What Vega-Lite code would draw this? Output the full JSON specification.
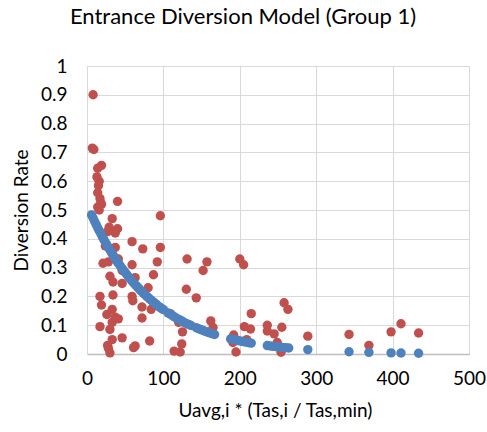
{
  "$schema": "https://vega.github.io/schema/vega-lite/v6.json",
  "width": 382,
  "height": 288,
  "autosize": "none",
  "padding": {"left": 87, "top": 66, "right": 18, "bottom": 78},
  "background": "white",
  "title": {"text": "Entrance Diversion Model (Group 1)", "font": "Lato", "fontSize": 22, "fontWeight": "normal", "color": "#000000", "anchor": "middle", "dx": -35, "offset": 28},
  "config": {
    "view": {"stroke": null},
    "axis": {"grid": true, "labelFont": "Lato", "labelFontSize": 19, "labelColor": "#000000", "titleFont": "Lato", "titleFontSize": 19, "titleFontWeight": "normal", "titleColor": "#000000", "ticks": false, "gridColor": "#D9D9D9", "gridWidth": 1, "gridOpacity": 1, "labelFlush": false}
  },
  "data": {"values": [
    {"x": 8, "y": 0.9, "s": "Observed"},
    {"x": 7, "y": 0.715, "s": "Observed"},
    {"x": 9, "y": 0.71, "s": "Observed"},
    {"x": 19, "y": 0.655, "s": "Observed"},
    {"x": 14, "y": 0.645, "s": "Observed"},
    {"x": 13, "y": 0.615, "s": "Observed"},
    {"x": 16, "y": 0.6, "s": "Observed"},
    {"x": 15, "y": 0.585, "s": "Observed"},
    {"x": 14, "y": 0.56, "s": "Observed"},
    {"x": 17, "y": 0.54, "s": "Observed"},
    {"x": 18, "y": 0.525, "s": "Observed"},
    {"x": 14, "y": 0.51, "s": "Observed"},
    {"x": 19, "y": 0.52, "s": "Observed"},
    {"x": 16, "y": 0.5, "s": "Observed"},
    {"x": 40, "y": 0.53, "s": "Observed"},
    {"x": 96, "y": 0.48, "s": "Observed"},
    {"x": 33, "y": 0.47, "s": "Observed"},
    {"x": 29, "y": 0.44, "s": "Observed"},
    {"x": 40, "y": 0.435, "s": "Observed"},
    {"x": 37, "y": 0.42, "s": "Observed"},
    {"x": 27, "y": 0.425, "s": "Observed"},
    {"x": 59, "y": 0.39, "s": "Observed"},
    {"x": 73, "y": 0.365, "s": "Observed"},
    {"x": 96, "y": 0.37, "s": "Observed"},
    {"x": 24, "y": 0.375, "s": "Observed"},
    {"x": 37, "y": 0.37, "s": "Observed"},
    {"x": 41, "y": 0.33, "s": "Observed"},
    {"x": 21, "y": 0.315, "s": "Observed"},
    {"x": 28, "y": 0.32, "s": "Observed"},
    {"x": 59, "y": 0.31, "s": "Observed"},
    {"x": 92, "y": 0.32, "s": "Observed"},
    {"x": 30, "y": 0.27, "s": "Observed"},
    {"x": 46, "y": 0.29, "s": "Observed"},
    {"x": 87, "y": 0.275, "s": "Observed"},
    {"x": 63, "y": 0.265, "s": "Observed"},
    {"x": 34, "y": 0.25, "s": "Observed"},
    {"x": 46, "y": 0.245, "s": "Observed"},
    {"x": 80, "y": 0.23, "s": "Observed"},
    {"x": 17, "y": 0.2, "s": "Observed"},
    {"x": 34, "y": 0.205, "s": "Observed"},
    {"x": 59, "y": 0.2, "s": "Observed"},
    {"x": 60, "y": 0.185, "s": "Observed"},
    {"x": 19, "y": 0.17, "s": "Observed"},
    {"x": 33, "y": 0.155, "s": "Observed"},
    {"x": 72, "y": 0.163, "s": "Observed"},
    {"x": 84, "y": 0.155, "s": "Observed"},
    {"x": 26, "y": 0.137, "s": "Observed"},
    {"x": 37, "y": 0.128, "s": "Observed"},
    {"x": 41, "y": 0.122, "s": "Observed"},
    {"x": 72, "y": 0.125, "s": "Observed"},
    {"x": 33, "y": 0.11, "s": "Observed"},
    {"x": 17, "y": 0.095, "s": "Observed"},
    {"x": 30, "y": 0.085, "s": "Observed"},
    {"x": 46, "y": 0.056, "s": "Observed"},
    {"x": 33, "y": 0.05, "s": "Observed"},
    {"x": 82, "y": 0.045, "s": "Observed"},
    {"x": 63, "y": 0.028, "s": "Observed"},
    {"x": 61, "y": 0.022, "s": "Observed"},
    {"x": 27, "y": 0.03, "s": "Observed"},
    {"x": 28, "y": 0.02, "s": "Observed"},
    {"x": 30, "y": 0.004, "s": "Observed"},
    {"x": 131, "y": 0.33, "s": "Observed"},
    {"x": 157, "y": 0.32, "s": "Observed"},
    {"x": 152, "y": 0.29, "s": "Observed"},
    {"x": 200, "y": 0.33, "s": "Observed"},
    {"x": 205, "y": 0.31, "s": "Observed"},
    {"x": 130, "y": 0.225, "s": "Observed"},
    {"x": 143, "y": 0.195, "s": "Observed"},
    {"x": 109, "y": 0.14, "s": "Observed"},
    {"x": 120, "y": 0.11, "s": "Observed"},
    {"x": 162, "y": 0.115, "s": "Observed"},
    {"x": 165, "y": 0.092, "s": "Observed"},
    {"x": 125, "y": 0.077, "s": "Observed"},
    {"x": 124, "y": 0.035, "s": "Observed"},
    {"x": 114, "y": 0.01, "s": "Observed"},
    {"x": 122, "y": 0.007, "s": "Observed"},
    {"x": 215, "y": 0.14, "s": "Observed"},
    {"x": 206, "y": 0.095, "s": "Observed"},
    {"x": 214, "y": 0.087, "s": "Observed"},
    {"x": 192, "y": 0.066, "s": "Observed"},
    {"x": 209, "y": 0.05, "s": "Observed"},
    {"x": 191, "y": 0.04, "s": "Observed"},
    {"x": 195, "y": 0.007, "s": "Observed"},
    {"x": 236, "y": 0.1, "s": "Observed"},
    {"x": 236, "y": 0.08, "s": "Observed"},
    {"x": 245, "y": 0.07, "s": "Observed"},
    {"x": 255, "y": 0.093, "s": "Observed"},
    {"x": 258, "y": 0.178, "s": "Observed"},
    {"x": 263, "y": 0.155, "s": "Observed"},
    {"x": 249, "y": 0.04, "s": "Observed"},
    {"x": 254, "y": 0.006, "s": "Observed"},
    {"x": 289, "y": 0.062, "s": "Observed"},
    {"x": 343, "y": 0.068, "s": "Observed"},
    {"x": 369, "y": 0.03, "s": "Observed"},
    {"x": 398, "y": 0.077, "s": "Observed"},
    {"x": 411, "y": 0.105, "s": "Observed"},
    {"x": 434, "y": 0.073, "s": "Observed"},
    {"x": 6, "y": 0.483, "s": "Model"},
    {"x": 8, "y": 0.472, "s": "Model"},
    {"x": 10, "y": 0.46, "s": "Model"},
    {"x": 12, "y": 0.449, "s": "Model"},
    {"x": 14, "y": 0.438, "s": "Model"},
    {"x": 16, "y": 0.428, "s": "Model"},
    {"x": 18, "y": 0.418, "s": "Model"},
    {"x": 20, "y": 0.407, "s": "Model"},
    {"x": 22, "y": 0.398, "s": "Model"},
    {"x": 24, "y": 0.388, "s": "Model"},
    {"x": 26, "y": 0.379, "s": "Model"},
    {"x": 28, "y": 0.37, "s": "Model"},
    {"x": 30, "y": 0.361, "s": "Model"},
    {"x": 32, "y": 0.352, "s": "Model"},
    {"x": 34, "y": 0.344, "s": "Model"},
    {"x": 36, "y": 0.335, "s": "Model"},
    {"x": 38, "y": 0.327, "s": "Model"},
    {"x": 40, "y": 0.319, "s": "Model"},
    {"x": 42, "y": 0.312, "s": "Model"},
    {"x": 44, "y": 0.304, "s": "Model"},
    {"x": 46, "y": 0.297, "s": "Model"},
    {"x": 48, "y": 0.29, "s": "Model"},
    {"x": 50, "y": 0.283, "s": "Model"},
    {"x": 52, "y": 0.276, "s": "Model"},
    {"x": 54, "y": 0.269, "s": "Model"},
    {"x": 56, "y": 0.263, "s": "Model"},
    {"x": 58, "y": 0.256, "s": "Model"},
    {"x": 60, "y": 0.25, "s": "Model"},
    {"x": 62, "y": 0.244, "s": "Model"},
    {"x": 64, "y": 0.238, "s": "Model"},
    {"x": 66, "y": 0.233, "s": "Model"},
    {"x": 68, "y": 0.227, "s": "Model"},
    {"x": 70, "y": 0.221, "s": "Model"},
    {"x": 72, "y": 0.216, "s": "Model"},
    {"x": 74, "y": 0.211, "s": "Model"},
    {"x": 76, "y": 0.206, "s": "Model"},
    {"x": 78, "y": 0.201, "s": "Model"},
    {"x": 80, "y": 0.196, "s": "Model"},
    {"x": 82, "y": 0.191, "s": "Model"},
    {"x": 84, "y": 0.187, "s": "Model"},
    {"x": 86, "y": 0.182, "s": "Model"},
    {"x": 88, "y": 0.178, "s": "Model"},
    {"x": 90, "y": 0.174, "s": "Model"},
    {"x": 92, "y": 0.169, "s": "Model"},
    {"x": 94, "y": 0.165, "s": "Model"},
    {"x": 96, "y": 0.161, "s": "Model"},
    {"x": 98, "y": 0.157, "s": "Model"},
    {"x": 100, "y": 0.154, "s": "Model"},
    {"x": 106, "y": 0.143, "s": "Model"},
    {"x": 109, "y": 0.138, "s": "Model"},
    {"x": 112, "y": 0.133, "s": "Model"},
    {"x": 115, "y": 0.128, "s": "Model"},
    {"x": 118, "y": 0.123, "s": "Model"},
    {"x": 121, "y": 0.119, "s": "Model"},
    {"x": 124, "y": 0.115, "s": "Model"},
    {"x": 127, "y": 0.11, "s": "Model"},
    {"x": 130, "y": 0.106, "s": "Model"},
    {"x": 133, "y": 0.103, "s": "Model"},
    {"x": 136, "y": 0.099, "s": "Model"},
    {"x": 143, "y": 0.091, "s": "Model"},
    {"x": 146, "y": 0.088, "s": "Model"},
    {"x": 149, "y": 0.0845, "s": "Model"},
    {"x": 152, "y": 0.0814, "s": "Model"},
    {"x": 155, "y": 0.0785, "s": "Model"},
    {"x": 158, "y": 0.0757, "s": "Model"},
    {"x": 161, "y": 0.073, "s": "Model"},
    {"x": 164, "y": 0.0704, "s": "Model"},
    {"x": 167, "y": 0.0678, "s": "Model"},
    {"x": 188, "y": 0.0525, "s": "Model"},
    {"x": 191, "y": 0.0506, "s": "Model"},
    {"x": 194, "y": 0.0488, "s": "Model"},
    {"x": 197, "y": 0.0471, "s": "Model"},
    {"x": 200, "y": 0.0454, "s": "Model"},
    {"x": 203, "y": 0.0437, "s": "Model"},
    {"x": 206, "y": 0.0422, "s": "Model"},
    {"x": 209, "y": 0.0407, "s": "Model"},
    {"x": 212, "y": 0.0392, "s": "Model"},
    {"x": 215, "y": 0.0378, "s": "Model"},
    {"x": 236, "y": 0.0293, "s": "Model"},
    {"x": 240, "y": 0.0279, "s": "Model"},
    {"x": 244, "y": 0.0265, "s": "Model"},
    {"x": 248, "y": 0.0253, "s": "Model"},
    {"x": 252, "y": 0.0241, "s": "Model"},
    {"x": 256, "y": 0.0229, "s": "Model"},
    {"x": 260, "y": 0.0218, "s": "Model"},
    {"x": 264, "y": 0.0208, "s": "Model"},
    {"x": 289, "y": 0.0153, "s": "Model"},
    {"x": 343, "y": 0.0079, "s": "Model"},
    {"x": 369, "y": 0.0058, "s": "Model"},
    {"x": 398, "y": 0.0041, "s": "Model"},
    {"x": 411, "y": 0.0035, "s": "Model"},
    {"x": 434, "y": 0.0026, "s": "Model"}
  ]},
  "mark": {"type": "circle", "size": 88, "opacity": 1},
  "encoding": {
    "x": {"field": "x", "type": "quantitative",
      "scale": {"domain": [0, 500], "nice": false, "zero": true},
      "axis": {"grid": true, "labelFlush": false, "values": [0, 100, 200, 300, 400, 500], "title": "Uavg,i * (Tas,i / Tas,min)", "labelPadding": 15, "domainColor": "#BFBFBF", "domainWidth": 1.5, "titleX": 188, "titleY": 56, "titleBaseline": "middle", "titleAlign": "center"}},
    "y": {"field": "y", "type": "quantitative",
      "scale": {"domain": [0, 1], "nice": false},
      "axis": {"grid": true, "labelFlush": false, "values": [0, 0.1, 0.2, 0.3, 0.4, 0.5, 0.6, 0.7, 0.8, 0.9, 1], "format": "~g", "title": "Diversion Rate", "labelPadding": 20, "domainColor": "#D9D9D9", "domainWidth": 1, "titleX": -66, "titleY": 144, "titleAngle": -90, "titleBaseline": "middle", "titleAlign": "center"}},
    "color": {"field": "s", "type": "nominal", "scale": {"domain": ["Observed", "Model"], "range": ["#C0504D", "#4F81BD"]}, "legend": null}
  }
}
